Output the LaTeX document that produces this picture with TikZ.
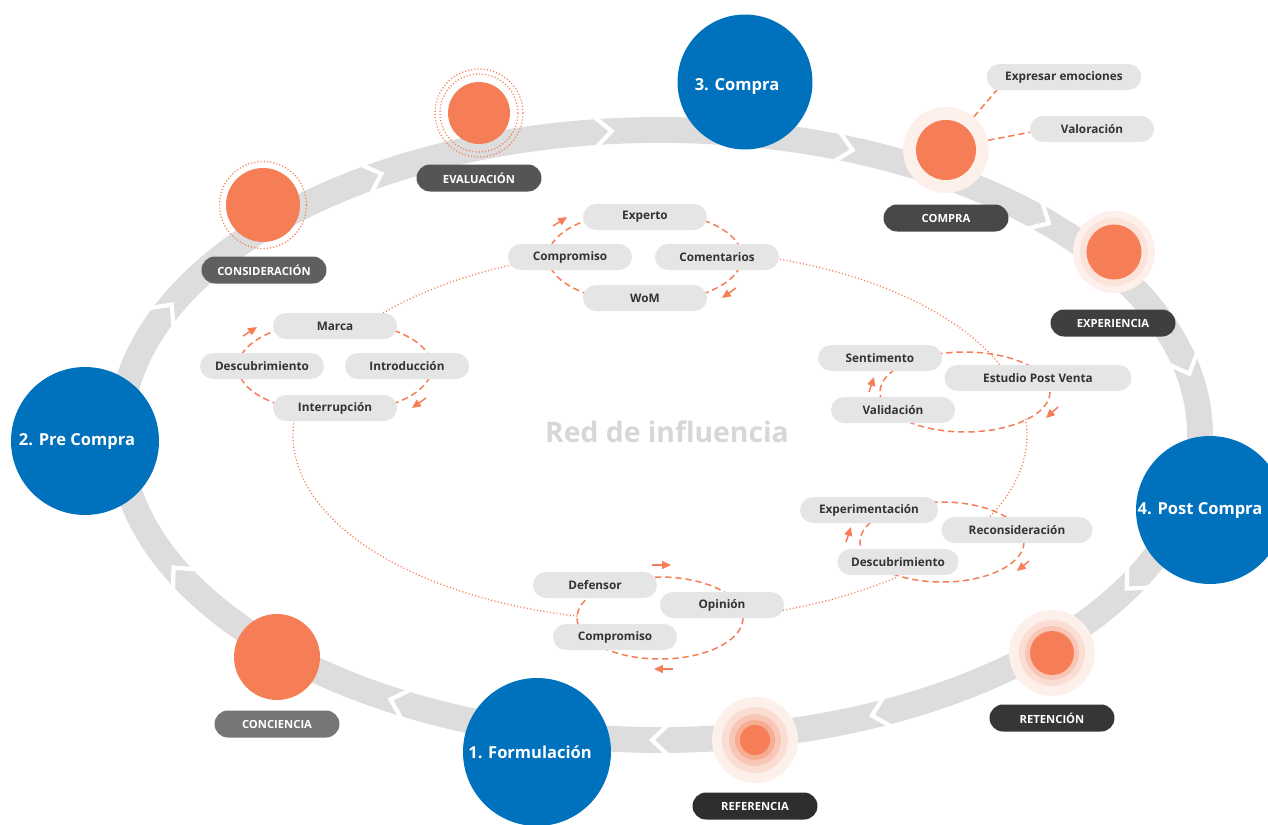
\documentclass[tikz,border=0pt]{standalone}
\usepackage{fontspec}
\setmainfont{Open Sans}
\usetikzlibrary{arrows.meta,shapes.misc}
\definecolor{bandgray}{RGB}{221,221,221}
\definecolor{coral}{RGB}{245,126,87}
\definecolor{haloA}{RGB}{253,239,233}
\definecolor{haloB}{RGB}{251,222,211}
\definecolor{haloC}{RGB}{249,199,183}
\definecolor{haloD}{RGB}{247,172,147}
\definecolor{pillgray}{RGB}{229,229,229}
\definecolor{pilltext}{RGB}{51,51,51}
\definecolor{stageblue}{RGB}{0,113,188}
\definecolor{netgray}{RGB}{215,215,215}
\definecolor{labA}{RGB}{118,118,118}
\definecolor{labB}{RGB}{95,95,95}
\definecolor{labC}{RGB}{85,85,85}
\definecolor{labD}{RGB}{72,72,72}
\definecolor{labE}{RGB}{63,63,63}
\definecolor{labF}{RGB}{54,54,54}
\definecolor{labG}{RGB}{46,46,46}
\newcommand{\pillfont}{\fontsize{6.7}{7}\selectfont\bfseries}
\newcommand{\labfont}{\fontsize{6.4}{7}\selectfont\bfseries}
\newcommand{\stagefont}{\fontsize{9.4}{11}\selectfont\bfseries}

\begin{document}
\begin{tikzpicture}[
    x=0.02cm, y=-0.02cm,
    band/.style={draw=bandgray, line width=14.7pt},
    chev/.style={draw=white, line width=2.4pt},
    pill/.style={rounded rectangle, fill=pillgray, inner sep=0pt,
                 minimum width=2.48cm, minimum height=0.52cm,
                 font=\pillfont, text=pilltext},
    stagelab/.style={rounded rectangle, inner sep=0pt, text=white,
                 minimum width=2.5cm, minimum height=0.54cm, font=\labfont},
    stage/.style={circle, fill=stageblue, inner sep=0pt,
                 minimum size=2.96cm},
    stagetext/.style={text=white, font=\stagefont, inner sep=0pt},
    dot/.style={circle, fill=coral, inner sep=0pt},
    halo/.style={circle, inner sep=0pt},
    dotring/.style={circle, draw=coral, inner sep=0pt, line width=0.75pt,
                 dash pattern=on 0.6pt off 1.2pt},
    loopline/.style={draw=coral, line width=0.85pt, dash pattern=on 3.6pt off 2.2pt},
    netline/.style={draw=coral, line width=0.75pt, dash pattern=on 0.6pt off 1.3pt},
    looparrow/.style={draw=coral, line width=0.85pt,
                 -{Triangle[length=5pt, width=4.5pt]}}
]
  \useasboundingbox (0,0) rectangle (1268,825);

  % --- outer cycle band with white chevrons ---
  \draw[band] (660,435) ellipse [x radius=540, y radius=305];
  \foreach \t in {204,238,264,290,315,347,29,66,90,119,153} {
    \pgfmathsetmacro{\px}{660+540*cos(\t)}
    \pgfmathsetmacro{\py}{435+305*sin(\t)}
    \pgfmathsetmacro{\vx}{-540*sin(\t)}
    \pgfmathsetmacro{\vy}{305*cos(\t)}
    \pgfmathsetmacro{\vl}{veclen(\vx,\vy)}
    \pgfmathsetmacro{\ux}{\vx/\vl}
    \pgfmathsetmacro{\uy}{\vy/\vl}
    \draw[chev] ({\px-8*(\ux)-15*(\uy)}, {\py-8*(\uy)+15*(\ux)})
             -- ({\px+8*(\ux)}, {\py+8*(\uy)})
             -- ({\px-8*(\ux)+15*(\uy)}, {\py-8*(\uy)-15*(\ux)});
  }

  % --- influence network (dotted) ---
  \draw[netline] plot[domain=221:247, samples=30] ({660+367*cos(\x)}, {435+186*sin(\x)});
  \draw[netline] plot[domain=288:338, samples=40] ({660+367*cos(\x)}, {435+186*sin(\x)});
  \draw[netline] plot[domain=-5:27, samples=30]   ({660+367*cos(\x)}, {435+186*sin(\x)});
  \draw[netline] plot[domain=50:72, samples=30]   ({660+367*cos(\x)}, {435+186*sin(\x)});
  \draw[netline] plot[domain=103:186, samples=60] ({660+367*cos(\x)}, {435+186*sin(\x)});

  % --- dashed loops ---
  \coordinate (loopA) at (645,257);
  \coordinate (loopB) at (335,367);
  \coordinate (loopC) at (965,392);
  \coordinate (loopD) at (942,542);
  \coordinate (loopE) at (660,618);
  \draw[loopline] (loopA) ellipse [x radius=97, y radius=46];
  \draw[loopline] (loopB) ellipse [x radius=97, y radius=46];
  \draw[loopline] (loopC) ellipse [x radius=85, y radius=40];
  \draw[loopline] (loopD) ellipse [x radius=82, y radius=40];
  \draw[loopline] (loopE) ellipse [x radius=83, y radius=41];

  \foreach \i/\sx/\sy/\ex/\ey in {1/553/226/567/217, 2/736/288/722/298,
      3/243/336/257/327, 4/426/398/412/408,
      5/869/392/874/377, 6/1058/407/1046/418,
      7/846/542/851/527, 8/1029/561/1017/571,
      9/652/565/671/565, 10/673/669/654/669} {
    \coordinate (tail\i) at (\sx,\sy);
    \coordinate (head\i) at (\ex,\ey);
    \draw[looparrow] (tail\i) -- (head\i);
  }

  % --- touch points ---
  \node[pill] (pExperto)     at (645,217) {Experto};
  \node[pill] (pCompromisoA) at (570,257) {Compromiso};
  \node[pill] (pComentarios) at (717,257) {Comentarios};
  \node[pill] (pWom)         at (645,298) {WoM};

  \node[pill] (pMarca)   at (335,326) {Marca};
  \node[pill] (pDescubA) at (262,366) {Descubrimiento};
  \node[pill] (pIntro)   at (407,366) {Introducción};
  \node[pill] (pInterr)  at (335,408) {Interrupción};

  \node[pill] (pSentim)  at (880,358) {Sentimento};
  \node[pill, minimum width=3.74cm] (pEstudio) at (1038,378) {Estudio Post Venta};
  \node[pill] (pValid)   at (893,410) {Validación};

  \node[pill, minimum width=2.76cm] (pExperim) at (869,510) {Experimentación};
  \node[pill, minimum width=3.02cm] (pRecons)  at (1017,530) {Reconsideración};
  \node[pill, minimum width=2.42cm] (pDescubB) at (898,562) {Descubrimiento};

  \node[pill] (pDefensor)    at (595,585) {Defensor};
  \node[pill] (pOpinion)     at (722,605) {Opinión};
  \node[pill] (pCompromisoB) at (615,637) {Compromiso};

  \node[font=\fontsize{16.1}{18}\selectfont\bfseries, text=netgray] (netTitle)
    at (667,432) {Red de influencia};

  % --- moments on the cycle ---
  \node[dotring, minimum size=1.74cm] (consRing) at (263,205) {};
  \node[dot, minimum size=1.48cm] (consDot) at (263,205) {};

  \node[dotring, minimum size=1.76cm] (evalRingB) at (479,113) {};
  \node[dotring, minimum size=1.56cm] (evalRingA) at (479,113) {};
  \node[dot, minimum size=1.24cm] (evalDot) at (479,113) {};

  \node[halo, fill=haloA, minimum size=1.72cm] (cmpHalo) at (946,150) {};
  \node[dot, minimum size=1.2cm] (cmpDot) at (946,150) {};

  \node[halo, fill=haloA, minimum size=1.64cm] (expHaloB) at (1114,252) {};
  \node[halo, fill=haloB!70!haloA, minimum size=1.36cm] (expHaloA) at (1114,252) {};
  \node[dot, minimum size=1.1cm] (expDot) at (1114,252) {};

  \node[halo, fill=haloA, minimum size=1.72cm] (retHaloC) at (1052,653) {};
  \node[halo, fill=haloB, minimum size=1.32cm] (retHaloB) at (1052,653) {};
  \node[halo, fill=haloC, minimum size=1.08cm] (retHaloA) at (1052,653) {};
  \node[dot, minimum size=0.88cm] (retDot) at (1052,653) {};

  \node[halo, fill=haloA, minimum size=1.72cm] (refHaloD) at (755,740) {};
  \node[halo, fill=haloB, minimum size=1.32cm] (refHaloC) at (755,740) {};
  \node[halo, fill=haloC, minimum size=1.04cm] (refHaloB) at (755,740) {};
  \node[halo, fill=haloD, minimum size=0.8cm] (refHaloA) at (755,740) {};
  \node[dot, minimum size=0.6cm] (refDot) at (755,740) {};

  \node[dot, minimum size=1.72cm] (concDot) at (277,657) {};

  \node[pill, minimum width=3.1cm] (pExpresar)   at (1064,77)  {Expresar emociones};
  \node[pill]                      (pValoracion) at (1092,129) {Valoración};
  \draw[loopline] (cmpHalo.50) -- (pExpresar.191);
  \draw[loopline] (cmpHalo.13) -- (pValoracion.183);

  % --- moment labels ---
  \node[stagelab, fill=labA] (lConc) at (277,724) {CONCIENCIA};
  \node[stagelab, fill=labB] (lCons) at (264,270) {CONSIDERACIÓN};
  \node[stagelab, fill=labC] (lEval) at (479,178) {EVALUACIÓN};
  \node[stagelab, fill=labD] (lCmp)  at (946,218) {COMPRA};
  \node[stagelab, fill=labE] (lExp)  at (1113,323) {EXPERIENCIA};
  \node[stagelab, fill=labF] (lRet)  at (1052,718) {RETENCIÓN};
  \node[stagelab, fill=labG] (lRef)  at (755,806) {REFERENCIA};

  % --- stages ---
  \node[stage, minimum size=2.7cm] (sCompra) at (745,82) {};
  \node[stage] (sPre)  at (85,441)   {};
  \node[stage] (sPost) at (1210,510) {};
  \node[stage] (sForm) at (537,752)  {};
  \node[stagetext] at ([xshift=-0.16cm, yshift=-0.1cm]sCompra.center) {3. Compra};
  \node[stagetext] at ([xshift=-0.16cm]sPre.center)    {2. Pre Compra};
  \node[stagetext] at ([xshift=-0.2cm]sPost.center)    {4. Post Compra};
  \node[stagetext] at ([xshift=-0.14cm]sForm.center)   {1. Formulación};
\end{tikzpicture}
\end{document}
